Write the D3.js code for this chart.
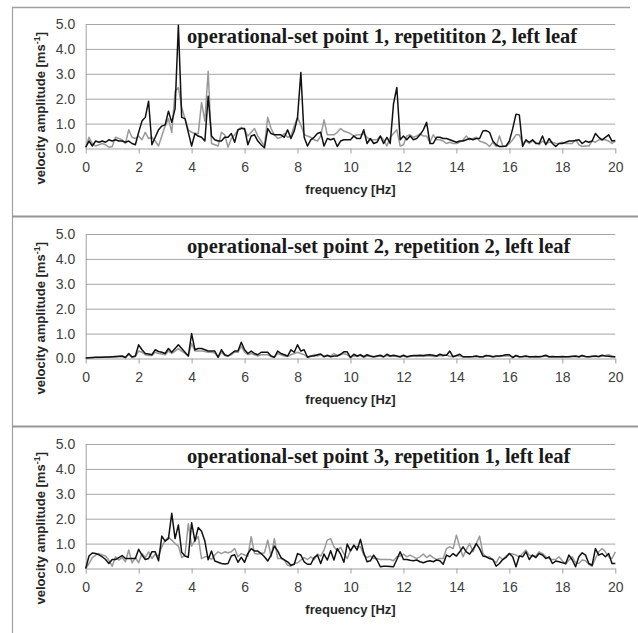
<!DOCTYPE html>
<html>
<head>
<meta charset="utf-8">
<style>
  body { margin: 0; background: #fff; }
  svg { display: block; }
  .tick text { font-family: "Liberation Sans", Arial, sans-serif; font-size: 14px; fill: #404040; }
  .axis-title { font-family: "Liberation Sans", Arial, sans-serif; font-size: 13px; font-weight: bold; fill: #262626; }
  .panel-title { font-family: "Liberation Serif", "Times New Roman", serif; font-size: 20.5px; font-weight: bold; fill: #1a1a1a; }
</style>
</head>
<body>
<div id="chart"></div>
<script src="https://d3js.org/d3.v7.min.js"></script>
<script>
// spectra are sampled every 0.125 Hz from 0 to 20 Hz (161 values per series)
var freqStep = 0.125;
var freqTicks = [0, 2, 4, 6, 8, 10, 12, 14, 16, 18, 20];
var ampTicks = [0, 1, 2, 3, 4, 5];

var titles = [
  "operational-set point 1, repetititon 2, left leaf",
  "operational-set point 2, repetition 2, left leaf",
  "operational-set point 3, repetition 1, left leaf"
];

var p1Black = [
  0.05, 0.3, 0.1, 0.3, 0.25, 0.3, 0.25, 0.35,
  0.3, 0.35, 0.3, 0.3, 0.25, 0.3, 0.2, 0.15,
  0.65, 1.1, 1.25, 1.9, 0.15, 0.45, 0.75, 0.9,
  0.95, 1.5, 1.05, 1.6, 4.95, 1.25, 1.2, 0.65,
  0.1, 0.6, 0.5, 0.45, 0.3, 2.1, 0.5, 0.35,
  0.3, 0.3, 0.45, 0.45, 0.6, 0.25, 0.75, 0.8,
  0.8, 0.15, 0.5, 0.55, 0.3, 0.15, 0.03, 0.8,
  0.6, 0.55, 0.55, 0.55, 0.45, 0.75, 0.4, 0.7,
  1.25, 3.05, 0.45, 0.1, 0.35, 0.45, 0.6, 0.65,
  0.1, 0.4, 0.35, 0.4, 0.08, 0.3, 0.35, 0.35,
  0.35, 0.5, 0.4, 0.4, 0.75, 0.2, 0.4, 0.2,
  0.25, 0.5, 0.2, 0.45, 0.2, 1.8, 2.45, 0.35,
  0.5, 0.35, 0.5, 0.35, 0.4, 0.55, 0.75, 1.05,
  0.2, 0.2, 0.45, 0.45, 0.4, 0.4, 0.35, 0.3,
  0.25, 0.3, 0.3, 0.35, 0.4, 0.35, 0.4, 0.4,
  0.7, 0.72, 0.65, 0.3, 0.15, 0.08, 0.08, 0.1,
  0.3, 0.8, 1.38, 1.35, 0.08, 0.35, 0.25, 0.35,
  0.2, 0.2, 0.5, 0.15, 0.4, 0.2, 0.08, 0.2,
  0.2, 0.25, 0.3, 0.3, 0.32, 0.35, 0.2, 0.3,
  0.25, 0.3, 0.6, 0.45, 0.35, 0.45, 0.55, 0.3,
  0.32
];
var p1Gray = [
  0.05, 0.45, 0.2, 0.1, 0.15, 0.2, 0.15, 0.05,
  0.08, 0.45, 0.4, 0.35, 0.2, 0.75, 0.45, 0.4,
  0.5, 0.35, 0.65, 0.4, 0.45, 0.3, 0.1, 0.5,
  0.9, 1.2, 0.65, 2.3, 2.45, 1.65, 1.2, 0.75,
  0.65, 0.6, 0.6, 1.85, 1.1, 3.1, 0.2, 0.15,
  0.1, 0.65, 0.55, 0.05, 0.4, 0.55, 0.75, 0.85,
  0.75, 0.5, 0.65, 0.8, 0.5, 0.3, 0.1, 1.25,
  0.8, 0.55, 0.4, 0.45, 0.6, 0.45, 0.5, 0.9,
  1.25, 0.95, 0.55, 0.5, 0.45, 0.35, 0.3, 0.5,
  1.15, 0.55, 0.55, 0.55, 0.65, 0.8, 0.7, 0.65,
  0.6, 0.5, 0.55, 0.55, 0.6, 0.45, 0.35, 0.35,
  0.35, 0.5, 0.35, 0.1, 0.45, 0.6, 0.75, 0.1,
  0.15, 0.5, 0.55, 0.45, 0.5, 0.6, 0.5, 0.5,
  0.25, 0.55, 0.35, 0.35, 0.3, 0.2, 0.25, 0.2,
  0.2, 0.25, 0.35, 0.5, 0.35, 0.4, 0.45, 0.3,
  0.25, 0.2, 0.08, 0.25, 0.08, 0.5, 0.1, 0.08,
  0.2, 0.35, 0.55, 0.55, 0.2, 0.3, 0.2, 0.3,
  0.25, 0.15, 0.3, 0.2, 0.25, 0.25, 0.2, 0.2,
  0.25, 0.2, 0.2, 0.2, 0.35, 0.15, 0.08, 0.1,
  0.1, 0.3, 0.25, 0.35, 0.35, 0.35, 0.3, 0.2,
  0.3
];

var p2Black = [
  0.02, 0.03, 0.04, 0.05, 0.05, 0.05, 0.06, 0.06,
  0.07, 0.08, 0.09, 0.1, 0.04, 0.2, 0.06, 0.1,
  0.55, 0.35, 0.2, 0.18, 0.15, 0.35, 0.28, 0.25,
  0.2, 0.4, 0.25, 0.4, 0.55, 0.4, 0.25, 0.1,
  1.0, 0.35, 0.4, 0.4, 0.35, 0.3, 0.3, 0.3,
  0.05, 0.35, 0.15, 0.1, 0.2, 0.3, 0.3, 0.65,
  0.35, 0.2, 0.3, 0.2, 0.15, 0.25, 0.25, 0.25,
  0.1, 0.05, 0.3, 0.2, 0.15, 0.1, 0.35, 0.25,
  0.55, 0.3, 0.35, 0.05, 0.1, 0.1, 0.15, 0.18,
  0.07, 0.13, 0.07, 0.1, 0.1, 0.17, 0.27, 0.27,
  0.04, 0.17, 0.1, 0.15, 0.07, 0.15, 0.1, 0.07,
  0.1, 0.13, 0.07, 0.17, 0.1, 0.13, 0.1, 0.07,
  0.13, 0.07, 0.1, 0.12, 0.12, 0.13, 0.12, 0.14,
  0.15, 0.13, 0.1, 0.17, 0.13, 0.13, 0.3, 0.07,
  0.12, 0.17, 0.07, 0.07, 0.07, 0.08, 0.1, 0.07,
  0.07, 0.12, 0.1, 0.07, 0.1, 0.1, 0.12, 0.15,
  0.15, 0.04, 0.12, 0.07, 0.08, 0.1, 0.07, 0.07,
  0.08, 0.07, 0.09, 0.13, 0.07, 0.08, 0.07, 0.07,
  0.08, 0.07, 0.07, 0.09, 0.1, 0.07, 0.12, 0.08,
  0.07, 0.09, 0.1, 0.08, 0.13, 0.1, 0.09, 0.07,
  0.07
];
var p2Gray = [
  0.02, 0.03, 0.03, 0.04, 0.04, 0.05, 0.05, 0.05,
  0.06, 0.06, 0.07, 0.08, 0.04, 0.15, 0.05, 0.08,
  0.3, 0.25, 0.15, 0.12, 0.12, 0.25, 0.2, 0.18,
  0.15, 0.3, 0.2, 0.3, 0.4, 0.3, 0.2, 0.1,
  0.6, 0.3, 0.3, 0.3, 0.28, 0.25, 0.25, 0.22,
  0.05, 0.25, 0.12, 0.1, 0.15, 0.25, 0.25, 0.5,
  0.25, 0.15, 0.2, 0.15, 0.1, 0.15, 0.15, 0.15,
  0.08, 0.05, 0.2, 0.15, 0.1, 0.08, 0.15, 0.2,
  0.25, 0.2, 0.15, 0.05, 0.08, 0.15, 0.1, 0.15,
  0.08, 0.1, 0.1, 0.2, 0.12, 0.15, 0.2, 0.15,
  0.06, 0.1, 0.08, 0.12, 0.05, 0.1, 0.08, 0.06,
  0.08, 0.1, 0.06, 0.12, 0.08, 0.1, 0.08, 0.06,
  0.1, 0.06, 0.08, 0.1, 0.08, 0.1, 0.08, 0.1,
  0.1, 0.08, 0.08, 0.12, 0.1, 0.15, 0.08, 0.08,
  0.1, 0.1, 0.06, 0.06, 0.06, 0.07, 0.08, 0.06,
  0.06, 0.1, 0.12, 0.06, 0.08, 0.08, 0.1, 0.1,
  0.1, 0.06, 0.1, 0.06, 0.06, 0.08, 0.06, 0.06,
  0.07, 0.06, 0.08, 0.1, 0.06, 0.07, 0.06, 0.06,
  0.07, 0.06, 0.08, 0.07, 0.08, 0.06, 0.1, 0.07,
  0.06, 0.08, 0.08, 0.07, 0.1, 0.12, 0.15, 0.1,
  0.06
];

var p3Black = [
  0.0, 0.5, 0.62, 0.6, 0.55, 0.47, 0.36, 0.2,
  0.36, 0.36, 0.44, 0.52, 0.4, 0.4, 0.4, 0.4,
  0.77, 0.54, 0.36, 0.4, 0.67, 0.67, 0.31, 1.3,
  1.1, 1.2, 2.22, 1.2, 1.75, 0.65, 0.5, 0.45,
  1.84, 1.1, 1.65, 1.5, 1.1, 0.35, 0.7, 0.3,
  0.25, 0.2, 0.18, 0.2, 0.5, 0.55, 0.25, 0.45,
  0.25, 0.6, 0.8, 0.7, 0.7, 0.6, 0.47, 0.3,
  0.54, 0.9, 0.71, 0.44, 0.35, 0.27, 0.13, 0.17,
  0.6, 0.54, 0.27, 0.17, 0.17, 0.44, 0.54, 0.2,
  0.58, 0.34, 0.71, 0.34, 0.8, 0.58, 0.25, 0.98,
  0.71, 0.94, 0.74, 1.17, 0.63, 0.27, 0.31, 0.54,
  0.34, 0.07, 0.09, 0.09, 0.08, 0.07, 0.36, 0.67,
  0.36, 0.36, 0.33, 0.31, 0.34, 0.27, 0.23, 0.28,
  0.31, 0.27, 0.34, 0.31, 0.17, 0.54, 0.47, 0.6,
  0.5, 0.67, 0.87, 0.67, 0.58, 0.77, 1.0, 0.8,
  0.5, 0.47, 0.4, 0.36, 0.09, 0.2, 0.36, 0.45,
  0.6, 0.47, 0.07, 0.5, 0.47, 0.67, 0.36, 0.54,
  0.44, 0.6, 0.54, 0.4, 0.47, 0.2, 0.3, 0.27,
  0.23, 0.2, 0.54, 0.34, 0.07, 0.47, 0.63, 0.54,
  0.2, 0.13, 0.8, 0.54, 0.6, 0.47, 0.6, 0.2,
  0.2
];
var p3Gray = [
  0.0, 0.2, 0.44, 0.54, 0.6, 0.54, 0.5, 0.34,
  0.09, 0.47, 0.34, 0.44, 0.27, 0.74, 0.23, 0.44,
  0.23, 0.6, 0.44, 0.67, 0.4, 0.58, 0.5, 0.87,
  1.14, 1.25, 1.14, 1.0, 0.9, 0.44, 0.54, 1.8,
  0.9, 1.14, 1.28, 0.4, 0.47, 0.47, 0.36, 0.54,
  0.67, 0.6, 0.67, 0.63, 0.67, 0.8, 0.47, 0.6,
  0.54, 0.5, 1.28, 0.6, 0.58, 0.6, 0.63, 1.14,
  0.47, 1.2, 0.4, 0.4, 0.34, 0.13, 0.09, 0.2,
  0.23, 0.34, 0.44, 0.36, 0.47, 0.36, 0.58, 0.5,
  0.74, 1.14, 1.2, 0.87, 0.71, 0.85, 0.6, 0.4,
  0.71, 0.9, 0.87, 0.87, 0.54, 0.44, 0.5, 0.4,
  0.4, 0.36, 0.36, 0.36, 0.36, 0.31, 0.47, 0.5,
  0.58, 0.47, 0.54, 0.47, 0.4, 0.47, 0.58, 0.44,
  0.54, 0.44, 0.36, 0.4, 0.4, 0.8, 0.87, 0.8,
  1.34, 0.87, 0.47, 0.77, 1.0, 0.67, 1.0, 1.3,
  0.6, 0.47, 0.47, 0.35, 0.23, 0.47, 0.36, 0.5,
  0.6, 0.58, 0.54, 0.47, 0.6, 0.74, 0.54, 0.5,
  0.5, 0.67, 0.6, 0.47, 0.4, 0.36, 0.36, 0.47,
  0.31, 0.17, 0.34, 0.47, 0.23, 0.2, 0.34, 0.31,
  0.17, 0.09, 0.4, 0.67, 0.8, 0.67, 0.47, 0.4,
  0.67
];

var panels = [
  {title: titles[0], black: p1Black, gray: p1Gray},
  {title: titles[1], black: p2Black, gray: p2Gray},
  {title: titles[2], black: p3Black, gray: p3Gray}
];

var width = 638, height = 633;
var plotLeft = 85.7, plotRight = 615.3, plotH = 124.5;
var plotTops = [24, 234, 444];

var svg = d3.select("#chart").append("svg")
    .attr("width", width)
    .attr("height", height);

// outer frame: left edge, top edge and panel separators
svg.append("line")
    .attr("x1", 12.5).attr("x2", 12.5).attr("y1", 7).attr("y2", height)
    .attr("stroke", "#a0a0a0").attr("stroke-width", 1.2);
svg.append("line")
    .attr("x1", 12).attr("x2", 630).attr("y1", 7.5).attr("y2", 7.5)
    .attr("stroke", "#a0a0a0").attr("stroke-width", 1.5);
[216.5, 426.5].forEach(function(yy) {
  svg.append("line")
      .attr("x1", 12).attr("x2", width).attr("y1", yy).attr("y2", yy)
      .attr("stroke", "#959595").attr("stroke-width", 2);
});

var x = d3.scaleLinear().domain([0, 20]).range([plotLeft, plotRight]);
var y = d3.scaleLinear().domain([0, 5]).range([plotH, 0]);

var line = d3.line()
    .x(function(d, i) { return x(i * freqStep); })
    .y(function(d) { return y(d); });

panels.forEach(function(p, k) {
  var g = svg.append("g").attr("transform", "translate(0," + plotTops[k] + ")");

  // horizontal gridlines
  var grid = g.append("g")
      .attr("transform", "translate(" + plotLeft + ",0)")
      .call(d3.axisLeft(y).tickValues(ampTicks.slice(1)).tickSize(-(plotRight - plotLeft)).tickFormat(""));
  grid.select(".domain").remove();
  grid.selectAll(".tick line").attr("stroke", "#a6a6a6");

  // y axis
  var yAxis = g.append("g")
      .attr("transform", "translate(" + plotLeft + ",0)")
      .call(d3.axisLeft(y).tickValues(ampTicks).tickFormat(d3.format(".1f")).tickSize(0).tickPadding(10.5));
  yAxis.select(".domain").attr("stroke", "#a0a0a0");
  yAxis.selectAll(".tick text").attr("font-family", null).attr("font-size", null);

  // x axis
  var xAxis = g.append("g")
      .attr("transform", "translate(0," + plotH + ")")
      .call(d3.axisBottom(x).tickValues(freqTicks).tickFormat(d3.format("d"))
        .tickSizeInner(5).tickSizeOuter(0).tickPadding(9));
  xAxis.select(".domain").attr("stroke", "#a0a0a0");
  xAxis.selectAll(".tick line").attr("stroke", "#a0a0a0");
  xAxis.selectAll(".tick text").attr("font-family", null).attr("font-size", null);

  // spectra
  g.append("path")
      .datum(p.gray)
      .attr("fill", "none")
      .attr("stroke", "#999999")
      .attr("stroke-width", 1.5)
      .attr("stroke-linejoin", "round")
      .attr("d", line);
  g.append("path")
      .datum(p.black)
      .attr("fill", "none")
      .attr("stroke", "#111111")
      .attr("stroke-width", 1.5)
      .attr("stroke-linejoin", "round")
      .attr("d", line);

  // panel title
  g.append("text")
      .attr("class", "panel-title")
      .attr("x", 187)
      .attr("y", 19)
      .text(p.title);

  // axis titles
  g.append("text")
      .attr("class", "axis-title")
      .attr("text-anchor", "middle")
      .attr("x", (plotLeft + plotRight) / 2)
      .attr("y", plotH + 45.5)
      .text("frequency [Hz]");

  var yl = g.append("text")
      .attr("class", "axis-title")
      .attr("text-anchor", "middle")
      .attr("transform", "translate(45," + (plotH / 2 + 22) + ") rotate(-90)");
  yl.append("tspan").text("velocity amplitude [ms");
  yl.append("tspan").attr("dy", -5).attr("font-size", "9px").text("-1");
  yl.append("tspan").attr("dy", 5).text("]");
});
</script>
</body>
</html>
